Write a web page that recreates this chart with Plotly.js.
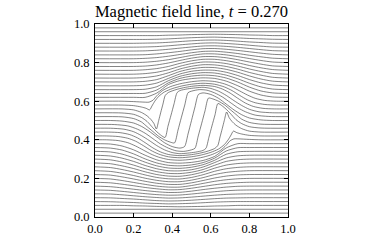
<!DOCTYPE html>
<html>
<head>
<meta charset="utf-8">
<script src="https://cdn.plot.ly/plotly-3.0.1.min.js"></script>
<style>
  html, body { margin: 0; padding: 0; background: #fff; }
  #graph { width: 374px; height: 249px; }
</style>
</head>
<body>
<div id="graph"></div>
<script>
// straight field lines far from the eddy
const flatLevels = [0.02, 0.04, 0.96, 0.98]

// lines bowed over the top of the eddy
const arcX = [0, 0.2, 0.26, 0.32, 0.38, 0.44, 0.5, 0.56, 0.62, 0.68, 0.74, 0.8, 0.86, 0.92, 1]
const arcY = [
  [.62, .62, .62, .642, .686, .707, .717, .721, .718, .704, .68, .652, .632, .622, .62],
  [.64, .64, .641, .658, .695, .718, .73, .735, .732, .72, .699, .673, .653, .643, .64],
  [.66, .66, .662, .675, .706, .729, .742, .748, .746, .735, .716, .693, .674, .663, .66],
  [.68, .68, .683, .694, .718, .741, .755, .761, .76, .75, .733, .712, .695, .684, .68],
  [.70, .70, .703, .712, .732, .754, .768, .775, .774, .765, .75, .731, .715, .704, .70],
  [.72, .72, .723, .731, .747, .767, .781, .789, .788, .78, .766, .749, .735, .724, .72],
  [.74, .74, .743, .75, .763, .781, .795, .803, .802, .795, .782, .767, .754, .744, .74],
  [.76, .76, .763, .769, .78, .796, .809, .817, .817, .81, .799, .785, .773, .764, .76],
  [.78, .78, .782, .788, .798, .811, .823, .831, .831, .825, .815, .803, .792, .783, .78],
  [.80, .80, .802, .807, .815, .826, .837, .845, .845, .84, .831, .821, .811, .803, .80],
  [.82, .82, .822, .826, .833, .842, .851, .858, .859, .854, .847, .838, .83, .823, .82],
  [.84, .84, .841, .845, .851, .858, .866, .872, .873, .869, .863, .856, .849, .843, .84],
  [.86, .86, .861, .864, .869, .875, .881, .886, .887, .884, .879, .873, .867, .862, .86],
  [.88, .88, .881, .883, .887, .892, .897, .901, .902, .899, .895, .89, .885, .881, .88],
  [.90, .90, .901, .902, .905, .909, .913, .916, .917, .915, .911, .907, .904, .901, .90],
  [.92, .92, .92, .921, .923, .926, .929, .931, .932, .93, .928, .925, .923, .921, .92],
  [.94, .94, .94, .94, .942, .943, .945, .946, .947, .946, .945, .943, .942, .94, .94]
]

// lines sagging under the eddy
const bowlX = [0, 0.08, 0.14, 0.2, 0.26, 0.32, 0.38, 0.44, 0.5, 0.56, 0.62, 0.68, 0.74, 0.8, 1]
const bowlY = [
  [.06, .06, .06, .058, .057, .055, .054, .053, .054, .055, .057, .058, .06, .06, .06],
  [.08, .079, .077, .075, .072, .07, .068, .069, .071, .074, .077, .079, .08, .08, .08],
  [.10, .099, .096, .093, .089, .085, .083, .084, .087, .091, .095, .098, .099, .10, .10],
  [.12, .119, .115, .11, .105, .101, .098, .099, .103, .108, .113, .117, .119, .12, .12],
  [.14, .138, .133, .127, .121, .116, .113, .114, .119, .125, .131, .136, .139, .14, .14],
  [.16, .157, .151, .144, .137, .131, .127, .128, .134, .142, .149, .155, .159, .16, .16],
  [.18, .177, .17, .162, .153, .146, .141, .142, .149, .158, .167, .174, .178, .18, .18],
  [.20, .197, .189, .179, .169, .16, .155, .155, .163, .174, .185, .193, .198, .20, .20],
  [.22, .217, .208, .197, .185, .175, .169, .169, .177, .189, .202, .212, .218, .22, .22],
  [.24, .236, .227, .215, .201, .19, .183, .183, .191, .204, .22, .231, .237, .24, .24],
  [.26, .256, .246, .233, .218, .205, .198, .197, .205, .219, .237, .25, .257, .26, .26],
  [.28, .276, .265, .251, .234, .22, .212, .211, .219, .233, .253, .269, .277, .28, .28],
  [.30, .296, .285, .269, .25, .235, .226, .225, .232, .246, .268, .288, .297, .30, .30],
  [.32, .316, .305, .288, .267, .25, .24, .239, .245, .259, .282, .306, .317, .32, .32],
  [.34, .337, .326, .307, .284, .265, .254, .252, .258, .271, .294, .325, .338, .34, .34],
  [.36, .357, .347, .327, .301, .28, .268, .265, .27, .282, .305, .342, .359, .36, .36],
  [.38, .378, .368, .348, .32, .296, .282, .279, .283, .293, .314, .358, .38, .38, .38]
]

// lines that wind through the eddy (x, y pairs)
const line60 = [[0,.6],[.14,.6],[.2,.598],[.26,.595],[.28,.595],[.30,.605],[.32,.628],[.35,.655],[.39,.675],[.44,.69],[.5,.701],[.56,.706],[.62,.702],[.67,.69],[.71,.674],[.75,.653],[.79,.632],[.83,.615],[.88,.604],[.94,.6],[1,.6]]
const line58 = [[0,.58],[.14,.58],[.2,.577],[.24,.57],[.265,.563],[.283,.555],[.295,.575],[.31,.6],[.33,.625],[.36,.648],[.40,.665],[.45,.679],[.5,.688],[.56,.693],[.62,.688],[.67,.674],[.71,.655],[.75,.63],[.79,.607],[.83,.592],[.88,.583],[.94,.58],[1,.58]]
const line56 = [[0,.56],[.14,.56],[.2,.555],[.24,.542],[.27,.524],[.29,.505],[.305,.485],[.318,.456],[.33,.50],[.341,.543],[.352,.585],[.364,.63],[.38,.645],[.42,.66],[.46,.67],[.5,.677],[.56,.682],[.62,.676],[.66,.663],[.70,.642],[.74,.615],[.78,.59],[.82,.573],[.87,.563],[.93,.56],[1,.56]]
const line54 = [[0,.54],[.14,.539],[.2,.532],[.24,.516],[.27,.495],[.30,.462],[.32,.442],[.34,.425],[.363,.412],[.378,.47],[.394,.528],[.41,.588],[.425,.644],[.44,.655],[.48,.664],[.52,.669],[.56,.672],[.60,.666],[.64,.652],[.68,.63],[.72,.603],[.76,.578],[.80,.558],[.85,.545],[.92,.54],[1,.54]]
const line52 = [[0,.52],[.14,.519],[.2,.51],[.24,.493],[.27,.468],[.30,.443],[.33,.418],[.36,.40],[.39,.388],[.412,.384],[.43,.45],[.447,.514],[.465,.58],[.482,.644],[.5,.652],[.54,.66],[.58,.657],[.62,.643],[.66,.622],[.70,.594],[.74,.566],[.78,.545],[.83,.528],[.9,.521],[1,.52]]
const line50 = [[0,.5],[.08,.5],[.14,.497],[.2,.487],[.24,.47],[.28,.445],[.32,.415],[.36,.385],[.40,.365],[.44,.357],[.464,.365],[.482,.43],[.5,.5],[.518,.57],[.536,.635],[.56,.643],[.6,.635],[.64,.615],[.68,.585],[.72,.555],[.76,.53],[.8,.513],[.86,.503],[.92,.5],[1,.5]]
const line48 = [[0,.48],[.1,.479],[.17,.472],[.22,.455],[.26,.434],[.30,.406],[.34,.378],[.38,.357],[.42,.343],[.46,.34],[.5,.348],[.518,.356],[.535,.42],[.553,.486],[.57,.55],[.588,.616],[.61,.612],[.64,.60],[.67,.582],[.70,.557],[.73,.532],[.76,.507],[.80,.49],[.86,.481],[1,.48]]
const line46 = [[0,.46],[.08,.46],[.15,.455],[.2,.442],[.24,.422],[.28,.397],[.32,.37],[.36,.348],[.40,.334],[.44,.328],[.48,.331],[.52,.336],[.56,.345],[.575,.356],[.59,.412],[.606,.472],[.622,.53],[.637,.588],[.66,.575],[.68,.558],[.70,.538],[.73,.505],[.76,.484],[.80,.468],[.86,.461],[1,.46]]
const line44 = [[0,.44],[.07,.44],[.13,.437],[.18,.427],[.22,.41],[.26,.385],[.30,.358],[.34,.337],[.38,.324],[.44,.318],[.5,.323],[.54,.33],[.58,.34],[.62,.355],[.636,.37],[.648,.415],[.659,.457],[.67,.50],[.682,.544],[.695,.515],[.71,.495],[.73,.476],[.76,.458],[.80,.445],[.86,.44],[1,.44]]
const line42 = [[0,.42],[.06,.42],[.12,.417],[.17,.408],[.21,.393],[.25,.37],[.29,.345],[.33,.326],[.38,.312],[.44,.307],[.5,.312],[.55,.321],[.60,.335],[.64,.352],[.67,.375],[.69,.4],[.705,.425],[.717,.445],[.735,.437],[.76,.43],[.80,.423],[.86,.42],[1,.42]]
const line40 = [[0,.4],[.06,.4],[.12,.396],[.17,.385],[.21,.368],[.25,.347],[.29,.326],[.33,.31],[.38,.298],[.44,.294],[.5,.299],[.56,.31],[.61,.325],[.65,.345],[.68,.372],[.70,.395],[.72,.405],[.74,.405],[.80,.402],[.86,.4],[1,.4]]

const eyeLines = [line40, line42, line44, line46, line48, line50, line52, line54, line56, line58, line60]

const lineStyle = { color: "#303030", width: 0.6, shape: "spline", smoothing: 0.7 }

function fieldLine(xs, ys) {
  return {
    x: xs,
    y: ys,
    type: "scatter",
    mode: "lines",
    line: lineStyle,
    hoverinfo: "skip",
    showlegend: false,
  }
}

const data = []
flatLevels.forEach(function (lev) {
  data.push(fieldLine([0, 1], [lev, lev]))
})
bowlY.forEach(function (row) {
  data.push(fieldLine(bowlX, row))
})
arcY.forEach(function (row) {
  data.push(fieldLine(arcX, row))
})
eyeLines.forEach(function (pts) {
  data.push(fieldLine(pts.map(p => p[0]), pts.map(p => p[1])))
})

const serif = "Liberation Serif, Times New Roman, serif"

const axisStyle = {
  range: [0, 1],
  dtick: 0.2,
  tick0: 0,
  tickformat: ".1f",
  ticks: "inside",
  ticklen: 4,
  tickwidth: 1,
  tickcolor: "#000",
  showline: true,
  linecolor: "#000",
  linewidth: 1,
  mirror: "ticks",
  showgrid: false,
  zeroline: false,
  tickfont: { family: serif, size: 12.5, color: "#000" },
}

const layout = {
  width: 374,
  height: 249,
  margin: { l: 95, r: 86, t: 24, b: 32 },
  paper_bgcolor: "#fff",
  plot_bgcolor: "#fff",
  title: {
    text: "Magnetic field line, <i>t</i> = 0.270",
    font: { family: serif, size: 16.5, color: "#000" },
    x: 0.5,
    xref: "paper",
    y: 0.954,
    yref: "container",
    yanchor: "middle",
  },
  xaxis: Object.assign({}, axisStyle),
  yaxis: Object.assign({}, axisStyle, { ticklabelstandoff: 2 }),
}

Plotly.newPlot("graph", data, layout, { staticPlot: true, displayModeBar: false })
</script>
</body>
</html>
